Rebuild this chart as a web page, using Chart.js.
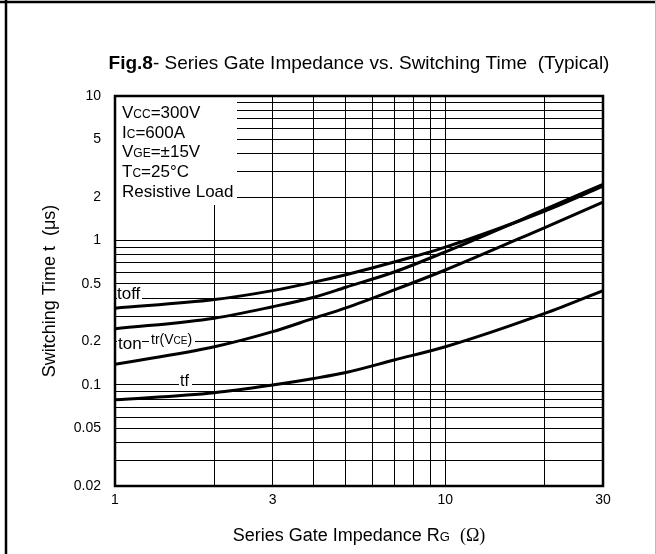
<!DOCTYPE html>
<html>
<head>
<meta charset="utf-8">
<script src="https://cdn.jsdelivr.net/npm/chart.js@4.4.1/dist/chart.umd.min.js"></script>
<style>
  html, body { margin: 0; padding: 0; background: #fff; }
  canvas { display: block; }
</style>
</head>
<body>
<canvas id="chart" width="656" height="554"></canvas>
<script>
// series gate impedance RG (ohm)
var rg   = [1, 2, 3, 4, 5, 7, 10, 20, 30];
// switching times (us)
var toff = [0.34, 0.39, 0.45, 0.515, 0.58, 0.71, 0.90, 1.60, 2.38];
var ton  = [0.245, 0.29, 0.348, 0.405, 0.475, 0.605, 0.835, 1.64, 2.45];
var tr   = [0.139, 0.184, 0.234, 0.29, 0.342, 0.455, 0.625, 1.23, 1.84];
var tf   = [0.079, 0.0885, 0.100, 0.111, 0.122, 0.149, 0.184, 0.313, 0.45];

// grid lines and tick labels
var xGrid   = [1, 2, 3, 4, 5, 6, 7, 8, 9, 10, 20, 30];
var xLabels = [1, 3, 10, 30];
var yGrid   = [0.02, 0.03, 0.04, 0.05, 0.06, 0.07, 0.08, 0.09,
               0.1, 0.2, 0.3, 0.4, 0.5, 0.6, 0.7, 0.8, 0.9,
               1, 2, 3, 4, 5, 6, 7, 8, 9, 10];
var yLabels = [0.02, 0.05, 0.1, 0.2, 0.5, 1, 2, 5, 10];

var SANS = "'Liberation Sans', Arial, sans-serif";

function points(ys) {
	return rg.map(function (x, i) { return { x: x, y: ys[i] }; });
}

function curve(name, ys) {
	return {
		label: name,
		data: points(ys),
		borderColor: '#000',
		borderWidth: 3,
		pointRadius: 0,
		fill: false,
		cubicInterpolationMode: 'monotone'
	};
}

// draw a row of [text, size, font] pieces on one baseline
function drawPieces(ctx, pieces, x, y, align) {
	var total = 0;
	pieces.forEach(function (p) {
		ctx.font = (p[3] || '') + ' ' + p[1] + 'px ' + (p[2] || SANS);
		p.w = ctx.measureText(p[0]).width;
		total += p.w;
	});
	if (align === 'center') x -= total / 2;
	ctx.textAlign = 'left';
	ctx.textBaseline = 'alphabetic';
	pieces.forEach(function (p) {
		ctx.font = (p[3] || '') + ' ' + p[1] + 'px ' + (p[2] || SANS);
		ctx.fillText(p[0], x, y);
		x += p.w;
	});
	return total;
}

var overlay = {
	id: 'overlay',
	beforeDatasetsDraw: function (chart) {
		var ctx = chart.ctx, a = chart.chartArea;
		var ys = chart.scales.y;
		ctx.save();
		ctx.fillStyle = '#fff';
		// conditions box
		ctx.fillRect(a.left + 1, a.top + 1, 121, 108);
		// label backgrounds over the grid lines
		var y04 = ys.getPixelForValue(0.4);
		var y02 = ys.getPixelForValue(0.2);
		var y01 = ys.getPixelForValue(0.1);
		ctx.fillRect(a.left + 2, y04 - 13, 25, 15);
		ctx.fillRect(a.left + 2, y02 - 7, 25, 15);
		ctx.fillRect(a.left + 34, y02 - 10, 46, 15);
		ctx.fillRect(a.left + 64, y01 - 12, 13, 14);
		ctx.restore();
	},
	afterDatasetsDraw: function (chart) {
		var ctx = chart.ctx, a = chart.chartArea;
		var ys = chart.scales.y;
		ctx.save();
		// plot frame
		ctx.strokeStyle = '#000';
		ctx.lineWidth = 2.5;
		ctx.strokeRect(a.left, a.top, a.right - a.left, a.bottom - a.top);

		ctx.fillStyle = '#000';
		// test conditions
		var lx = a.left + 7;
		drawPieces(ctx, [['V', 17], ['CC', 12], ['=300V', 17]], lx, a.top + 22, 'left');
		drawPieces(ctx, [['I', 17], ['C', 12], ['=600A', 17]], lx, a.top + 42, 'left');
		drawPieces(ctx, [['V', 17], ['GE', 12], ['=\u00b115V', 17]], lx, a.top + 61, 'left');
		drawPieces(ctx, [['T', 17], ['C', 12], ['=25\u00b0C', 17]], lx, a.top + 81, 'left');
		drawPieces(ctx, [['Resistive Load', 17]], lx, a.top + 101, 'left');

		// curve names
		var y04 = ys.getPixelForValue(0.4);
		var y02 = ys.getPixelForValue(0.2);
		var y01 = ys.getPixelForValue(0.1);
		drawPieces(ctx, [['toff', 17]], a.left + 2, y04 + 1, 'left');
		drawPieces(ctx, [['ton', 17]], a.left + 3, y02 + 7, 'left');
		drawPieces(ctx, [['tr(V', 14], ['CE', 10], [')', 14]], a.left + 36, y02 + 2, 'left');
		drawPieces(ctx, [['tf', 16]], a.left + 65, y01 + 1, 'left');
		ctx.restore();
	},
	afterDraw: function (chart) {
		var ctx = chart.ctx, a = chart.chartArea;
		var cx = (a.left + a.right) / 2;
		ctx.save();
		ctx.fillStyle = '#000';
		// title
		drawPieces(ctx, [['Fig.8', 19, SANS, 'bold'],
			['- Series Gate Impedance vs. Switching Time  (Typical)', 19]], cx, 69, 'center');
		// x axis title
		drawPieces(ctx, [['Series Gate Impedance R', 18], ['G', 13], ['  ', 18],
			['(\u03a9)', 18, "'Liberation Serif', 'Times New Roman', serif"]], cx, 541, 'center');
		// page frame
		ctx.strokeStyle = '#000';
		ctx.lineWidth = 2.5;
		ctx.beginPath();
		ctx.moveTo(0, 2); ctx.lineTo(656, 2);
		ctx.moveTo(6, 0); ctx.lineTo(6, 554);
		ctx.stroke();
		ctx.strokeStyle = '#bbb';
		ctx.lineWidth = 1;
		ctx.beginPath();
		ctx.moveTo(655.5, 0); ctx.lineTo(655.5, 554);
		ctx.stroke();
		ctx.restore();
	}
};

new Chart(document.getElementById('chart'), {
	type: 'line',
	data: {
		datasets: [curve('toff', toff), curve('ton', ton), curve('tr(VCE)', tr), curve('tf', tf)]
	},
	options: {
		responsive: false,
		animation: false,
		devicePixelRatio: 1,
		layout: { padding: { left: 0, right: 53, top: 96, bottom: 0 } },
		plugins: {
			legend: { display: false },
			tooltip: { enabled: false },
			title: { display: false }
		},
		scales: {
			x: {
				type: 'logarithmic',
				min: 1,
				max: 30,
				afterBuildTicks: function (scale) {
					scale.ticks = xGrid.map(function (v) { return { value: v }; });
				},
				afterFit: function (scale) { scale.height = 68; },
				grid: { color: '#000', lineWidth: 1, drawTicks: false },
				border: { color: '#000', width: 2 },
				ticks: {
					autoSkip: false,
					maxRotation: 0,
					padding: 6,
					color: '#000',
					font: { family: SANS, size: 14 },
					callback: function (value) {
						return xLabels.indexOf(value) >= 0 ? String(value) : '';
					}
				}
			},
			y: {
				type: 'logarithmic',
				min: 0.02,
				max: 10,
				afterBuildTicks: function (scale) {
					scale.ticks = yGrid.map(function (v) { return { value: v }; });
				},
				afterFit: function (scale) { scale.width = 115; },
				grid: { color: '#000', lineWidth: 1, drawTicks: false },
				border: { color: '#000', width: 2 },
				title: {
					display: true,
					text: 'Switching Time t  (\u03bcs)',
					color: '#000',
					font: { family: SANS, size: 18 },
					padding: { top: 39, bottom: 0 }
				},
				ticks: {
					autoSkip: false,
					padding: 14,
					color: '#000',
					font: { family: SANS, size: 14 },
					callback: function (value) {
						return yLabels.indexOf(value) >= 0 ? String(value) : '';
					}
				}
			}
		}
	},
	plugins: [overlay]
});
</script>
</body>
</html>
